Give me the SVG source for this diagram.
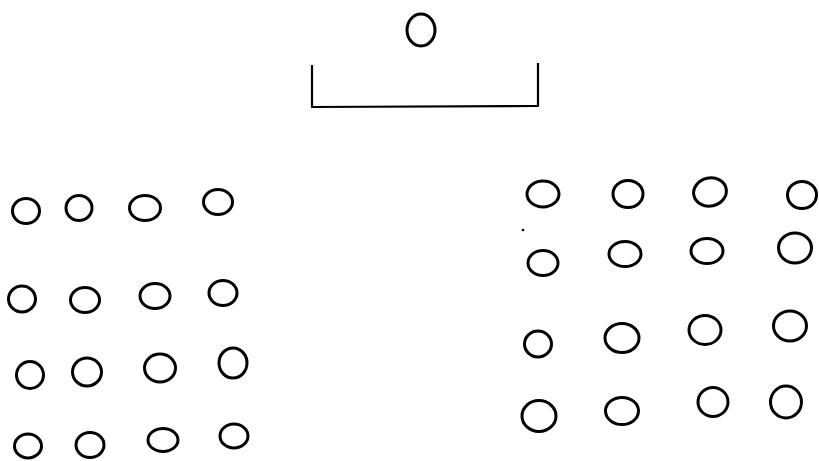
<svg xmlns="http://www.w3.org/2000/svg" width="819" height="461" viewBox="0 0 819 461">
<style>
.s{fill:none;stroke:#000;stroke-width:3}
.d{fill:none;stroke:#000;stroke-width:2.2;stroke-linejoin:round}
</style>
<rect width="819" height="461" fill="#fff"/>
<g id="teacher"><ellipse class="s" cx="421" cy="30" rx="14" ry="16"/></g>
<g id="desk"><path class="d" d="M312,65 L312,107 L538,106 L538,63"/></g>
<g id="left-group">
<g id="L11"><ellipse class="s" cx="26" cy="211" rx="13.5" ry="12.5"/></g>
<g id="L12"><ellipse class="s" cx="79" cy="208" rx="13" ry="12.5"/></g>
<g id="L13"><ellipse class="s" cx="145" cy="208" rx="15.5" ry="12.5"/></g>
<g id="L14"><ellipse class="s" cx="218" cy="202" rx="14.5" ry="12.5"/></g>
<g id="L21"><ellipse class="s" cx="22" cy="299" rx="13.5" ry="13"/></g>
<g id="L22"><ellipse class="s" cx="85" cy="300" rx="14.5" ry="12.5"/></g>
<g id="L23"><ellipse class="s" cx="155" cy="296" rx="15" ry="12.5"/></g>
<g id="L24"><ellipse class="s" cx="223" cy="293" rx="14" ry="12.5"/></g>
<g id="L31"><ellipse class="s" cx="30" cy="375" rx="13.5" ry="13.5"/></g>
<g id="L32"><ellipse class="s" cx="87" cy="372" rx="14.5" ry="14"/></g>
<g id="L33"><ellipse class="s" cx="160" cy="368" rx="15.5" ry="14"/></g>
<g id="L34"><ellipse class="s" cx="233" cy="363" rx="14" ry="15"/></g>
<g id="L41"><ellipse class="s" cx="28" cy="446" rx="13.5" ry="12"/></g>
<g id="L42"><ellipse class="s" cx="90" cy="445" rx="14" ry="12.5"/></g>
<g id="L43"><ellipse class="s" cx="163" cy="440" rx="15" ry="11.5"/></g>
<g id="L44"><ellipse class="s" cx="234" cy="436" rx="14" ry="12"/></g>
</g>
<g id="right-group">
<g id="R11"><ellipse class="s" cx="543" cy="194" rx="16" ry="13"/></g>
<g id="R12"><ellipse class="s" cx="628" cy="194" rx="15" ry="13.5"/></g>
<g id="R13"><ellipse class="s" cx="710" cy="192" rx="16.5" ry="14" transform="rotate(-12 710 192)"/></g>
<g id="R14"><ellipse class="s" cx="802" cy="195" rx="14.5" ry="13.5"/></g>
<g id="R21"><ellipse class="s" cx="543" cy="263" rx="15" ry="12.5"/></g>
<g id="R22"><ellipse class="s" cx="625" cy="254" rx="16" ry="12.5"/></g>
<g id="R23"><ellipse class="s" cx="707" cy="251" rx="16" ry="12.5"/></g>
<g id="R24"><ellipse class="s" cx="795" cy="248" rx="16.5" ry="15"/></g>
<g id="R31"><ellipse class="s" cx="538" cy="344" rx="13.5" ry="13"/></g>
<g id="R32"><ellipse class="s" cx="622" cy="338" rx="17" ry="14.5"/></g>
<g id="R33"><ellipse class="s" cx="705" cy="330" rx="16" ry="14.5"/></g>
<g id="R34"><ellipse class="s" cx="790" cy="326" rx="16.5" ry="15"/></g>
<g id="R41"><ellipse class="s" cx="539" cy="416" rx="17" ry="15.5"/></g>
<g id="R42"><ellipse class="s" cx="622" cy="411" rx="16.5" ry="13.5"/></g>
<g id="R43"><ellipse class="s" cx="713" cy="402" rx="15" ry="14.5"/></g>
<g id="R44"><ellipse class="s" cx="786" cy="402" rx="15.5" ry="16"/></g>
</g>
<circle cx="523" cy="230" r="1.3" fill="#000"/>
</svg>
